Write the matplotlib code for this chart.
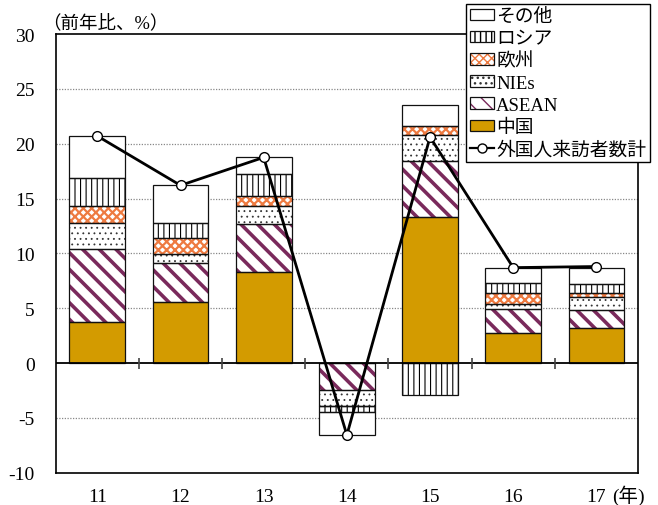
import matplotlib
matplotlib.use('Agg')
import matplotlib.pyplot as plt
import numpy as np
from matplotlib.patches import Patch
from matplotlib.lines import Line2D
from matplotlib.legend_handler import HandlerTuple

plt.rcParams['font.family'] = ['Liberation Serif', 'Noto Sans CJK JP']

# ---- data ----
years = ['11', '12', '13', '14', '15', '16', '17']
china = [3.71, 5.53, 8.27, 0.0, 13.28, 2.70, 3.19]
asean = [6.68, 3.55, 4.43, -2.43, 5.16, 2.22, 1.64]
nies = [2.34, 0.85, 1.58, -1.46, 2.37, 0.46, 1.15]
europe = [1.55, 1.50, 0.97, -0.05, 0.76, 1.00, 0.40]
russia = [2.56, 1.36, 1.95, -0.49, -2.92, 0.88, 0.82]
other = [3.82, 3.44, 1.55, -2.13, 1.95, 1.43, 1.49]
total = [20.7, 16.2, 18.75, -6.56, 20.6, 8.7, 8.8]

series_names = ['中国', 'ASEAN', 'NIEs', '欧州', 'ロシア', 'その他']
series_vals = [china, asean, nies, europe, russia, other]
line_name = '外国人来訪者数計'
yticks = [-10, -5, 0, 5, 10, 15, 20, 25, 30]

# styles: (facecolor, hatch, hatchcolor, hatch linewidth)
styles = {
    '中国': ('#D39B00', None, '#D39B00', 1.0),
    'ASEAN': ('white', '\\\\', '#7A2A5C', 2.6),
    'NIEs': ('white', '...', '#333333', 0.6),
    '欧州': ('white', 'xxxx', '#EE7A40', 1.6),
    'ロシア': ('white', '|||', 'black', 0.8),
    'その他': ('white', None, 'black', 1.0),
}

fig = plt.figure(figsize=(6.58, 5.06), dpi=100)
ax = fig.add_axes([0.0847, 0.0638, 0.8849, 0.867])

x = np.arange(len(years))
width = 0.67
pos_bottom = np.zeros(len(years))
neg_bottom = np.zeros(len(years))


def hatched(p, hlw):
    try:
        p.set_hatch_linewidth(hlw)
    except AttributeError:
        pass


for name, vals in zip(series_names, series_vals):
    vals = np.array(vals, dtype=float)
    bottoms = np.where(vals >= 0, pos_bottom, neg_bottom)
    face, hatch, hcol, hlw = styles[name]
    with plt.rc_context({'hatch.linewidth': hlw}):
        bars = ax.bar(x, vals, width=width, bottom=bottoms, color=face,
                      edgecolor=hcol, hatch=hatch, linewidth=0, zorder=2)
    for p in bars:
        hatched(p, hlw)
    ax.bar(x, vals, width=width, bottom=bottoms, fill=False,
           edgecolor='#111111', linewidth=0.9, zorder=3)
    pos_bottom = pos_bottom + np.where(vals >= 0, vals, 0)
    neg_bottom = neg_bottom + np.where(vals < 0, vals, 0)

ax.plot(x, total, color='black', linewidth=2.0, marker='o', markersize=7,
        markerfacecolor='white', markeredgecolor='black', markeredgewidth=1.0,
        zorder=5)

# axes
ax.set_xlim(-0.5, len(years) - 0.5)
ax.set_ylim(-10, 30)
ax.set_yticks(yticks)
ax.set_yticklabels([str(t) for t in yticks], fontsize=14)
ax.tick_params(axis='y', length=0, pad=15)
ax.set_xticks(x)
ax.set_xticklabels(years, fontsize=14)
ax.tick_params(axis='x', length=0, pad=11)

for yv in yticks:
    if yv not in (0, -10, 30):
        ax.axhline(yv, color='#888888', linestyle=(0, (1, 1.2)), linewidth=0.9, zorder=1)
ax.axhline(0, color='black', linewidth=1.3, zorder=4)
ax.vlines(x[:-1] + 0.5, -0.5, 0.5, color='#444444', linewidth=1.2, zorder=4)

for s in ax.spines.values():
    s.set_linewidth(1.2)
    s.set_color('black')

fig.text(42 / 658, 1 - 23 / 506, '（前年比、%）', fontsize=13.3, va='center', ha='left')
fig.text(612 / 658, 1 - 496 / 506, '(年)', fontsize=14, va='center', ha='left')

# legend
handles = []
labels = []
for name in ['その他', 'ロシア', '欧州', 'NIEs', 'ASEAN', '中国']:
    face, hatch, hcol, hlw = styles[name]
    with plt.rc_context({'hatch.linewidth': hlw}):
        h1 = Patch(facecolor=face, edgecolor=hcol, hatch=hatch, linewidth=0)
    hatched(h1, hlw)
    h2 = Patch(fill=False, edgecolor='#111111', linewidth=0.9)
    handles.append((h1, h2))
    labels.append(name)
handles.append(Line2D([], [], color='black', linewidth=1.6, marker='o', markersize=6.5,
                      markerfacecolor='white', markeredgecolor='black'))
labels.append(line_name)

leg = fig.legend(handles, labels, loc='upper left', bbox_to_anchor=(466 / 658, 1 - 5 / 506),
                 handler_map={tuple: HandlerTuple(ndivide=1, pad=0)},
                 fontsize=13.5, frameon=True, fancybox=False, framealpha=1,
                 edgecolor='black', borderpad=0.2, labelspacing=0.27,
                 handlelength=1.3, handleheight=0.55, handletextpad=0.1, borderaxespad=0)
leg.get_frame().set_linewidth(1.0)
leg.set_zorder(10)

fig.savefig('out.png', dpi=100)
